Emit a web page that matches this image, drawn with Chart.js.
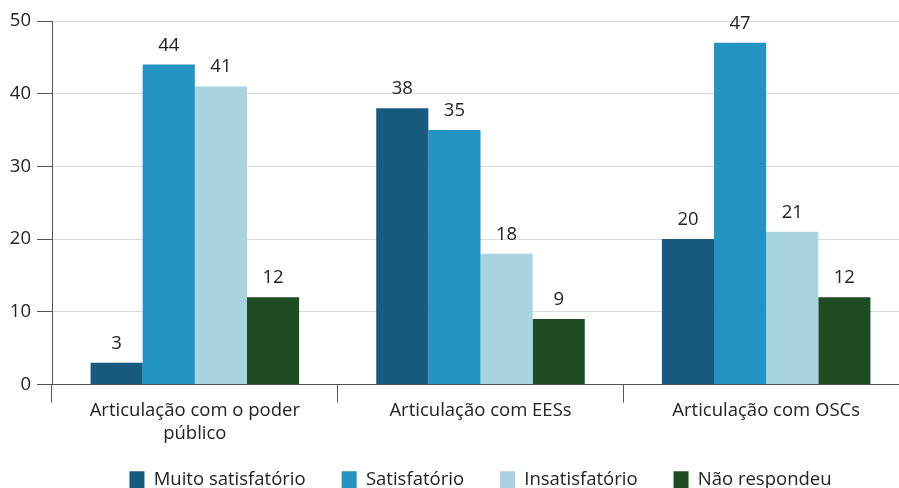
<!DOCTYPE html>
<html><head><meta charset="utf-8">
<script src="https://cdn.jsdelivr.net/npm/chart.js@4/dist/chart.umd.min.js"></script>
<style>html,body{margin:0;padding:0;overflow:hidden;background:#fff;width:899px;height:488px}canvas{display:block}</style>
</head><body>
<canvas id="c" width="912" height="511" style="width:912px;height:511px"></canvas>
<script>
const categories = [["Articulação com o poder","público"], "Articulação com EESs", "Articulação com OSCs"];
const seriesNames = ["Muito satisfatório", "Satisfatório", "Insatisfatório", "Não respondeu"];
const muitoSatisfatorio = [3, 38, 20];
const satisfatorio = [44, 35, 47];
const insatisfatorio = [41, 18, 21];
const naoRespondeu = [12, 9, 12];
const yTicks = [0, 10, 20, 30, 40, 50];
const colors = ["#195a80", "#2394c1", "#a9d3e0", "#1d4b22"];
const FONT = "'Open Sans', sans-serif";
const FS = 18.5;

const valueLabels = {
  id: 'valueLabels',
  afterDatasetsDraw(chart) {
    const ctx = chart.ctx;
    ctx.save();
    ctx.font = FS + "px " + FONT;
    ctx.fillStyle = "#222";
    ctx.textAlign = "center";
    ctx.textBaseline = "bottom";
    chart.data.datasets.forEach((ds, i) => {
      chart.getDatasetMeta(i).data.forEach((bar, j) => {
        ctx.fillText(String(ds.data[j]), bar.x, bar.y - 10);
      });
    });
    ctx.restore();
  }
};

const legendShift = {
  id: 'legendShift',
  afterLayout(chart) {
    if (chart.legend) { chart.legend.top -= 12; chart.legend.bottom -= 12; }
  }
};

const series = [muitoSatisfatorio, satisfatorio, insatisfatorio, naoRespondeu];
new Chart(document.getElementById('c'), {
  type: 'bar',
  data: {
    labels: categories,
    datasets: series.map((d, i) => ({
      label: seriesNames[i], data: d, backgroundColor: colors[i],
      barPercentage: 1, categoryPercentage: 0.73, borderWidth: 0
    }))
  },
  options: {
    responsive: false, animation: false,
    layout: { padding: { top: 21, right: 3, left: 0, bottom: 0 } },
    plugins: {
      legend: {
        position: 'bottom', fullSize: false,
        labels: { boxWidth: 15, boxHeight: 17, padding: 36, color: "#222", font: { size: FS, family: FONT } }
      },
      tooltip: { enabled: false }
    },
    scales: {
      x: {
        offset: true,
        grid: { offset: true, drawOnChartArea: false, tickLength: 18, tickColor: "#555", lineWidth: 1 },
        border: { color: "#555", width: 1 },
        ticks: { color: "#222", font: { size: FS, family: FONT, lineHeight: 1.25 }, padding: -3, maxRotation: 0 },
        afterFit(s) { s.height = 62; }
      },
      y: {
        min: 0, max: 50,
        afterBuildTicks(s) { s.ticks = yTicks.map(v => ({ value: v })); },
        grid: { color: "#d9d9d9", tickColor: "#555", tickLength: 15 },
        border: { color: "#555", width: 1 },
        ticks: { color: "#222", font: { size: FS, family: FONT }, padding: 6 },
        afterFit(s) { s.width = 52; }
      }
    }
  },
  plugins: [valueLabels, legendShift]
});
</script>
</body></html>
